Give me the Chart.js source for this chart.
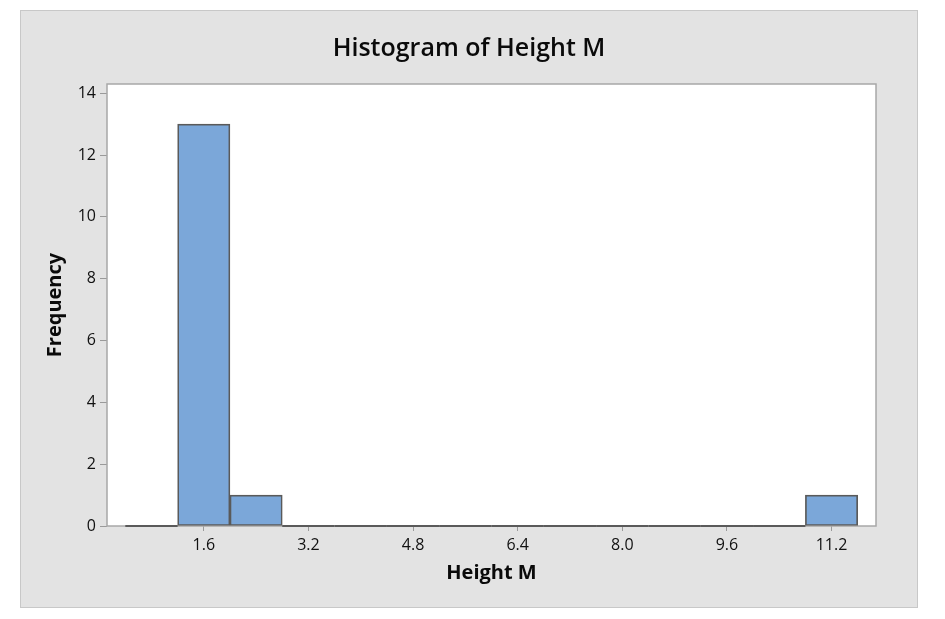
<!DOCTYPE html>
<html>
<head>
<meta charset="utf-8">
<script src="https://cdn.jsdelivr.net/npm/chart.js@4/dist/chart.umd.min.js"></script>
<style>
  body { margin: 0; background: #ffffff; }
  #box {
    position: absolute; left: 20px; top: 10px;
    width: 896px; height: 596px;
    background: #e3e3e3; border: 1px solid #c8c8c8;
  }
  canvas { display: block; }
</style>
</head>
<body>
<div id="box"><canvas id="hist" width="896" height="596"></canvas></div>
<script>
// Histogram data (bin midpoints, width 0.8)
var binCenters = [0.8, 1.6, 2.4, 3.2, 4.0, 4.8, 5.6, 6.4, 7.2, 8.0, 8.8, 9.6, 10.4, 11.2];
var frequencies = [0, 13, 1, 0, 0, 0, 0, 0, 0, 0, 0, 0, 0, 1];
var xTicks = [1.6, 3.2, 4.8, 6.4, 8.0, 9.6, 11.2];
var yTicks = [0, 2, 4, 6, 8, 10, 12, 14];

var fontFamily = "'Open Sans', 'Noto Sans', sans-serif";

// White plot area with a grey frame
var plotFrame = {
  id: "plotFrame",
  beforeDatasetsDraw: function (chart) {
    var a = chart.chartArea;
    var ctx = chart.ctx;
    ctx.save();
    ctx.fillStyle = "#ffffff";
    ctx.fillRect(a.left, a.top, a.right - a.left, a.bottom - a.top);
    ctx.strokeStyle = "#a8a8a8";
    ctx.lineWidth = 1.5;
    ctx.strokeRect(a.left, a.top, a.right - a.left, a.bottom - a.top);
    ctx.restore();
  },
  // empty bins still show as a flat outline on the baseline
  afterDatasetsDraw: function (chart) {
    var meta = chart.getDatasetMeta(0);
    var ctx = chart.ctx;
    ctx.save();
    ctx.strokeStyle = "#5a5a5a";
    ctx.lineWidth = 2;
    meta.data.forEach(function (bar, i) {
      if (frequencies[i] !== 0) return;
      var p = bar.getProps(["x", "base", "width"], true);
      ctx.beginPath();
      ctx.moveTo(p.x - p.width / 2, p.base);
      ctx.lineTo(p.x + p.width / 2, p.base);
      ctx.stroke();
    });
    ctx.restore();
  }
};

var ctx = document.getElementById("hist").getContext("2d");
var chart_hist = new Chart(ctx, {
  type: "bar",
  data: {
    datasets: [{
      label: "Height M",
      data: binCenters.map(function (c, i) { return { x: c, y: frequencies[i] }; }),
      backgroundColor: "#7ba7d9",
      borderColor: "#5a5a5a",
      borderWidth: 1.7,
      borderSkipped: false,
      barPercentage: 1,
      categoryPercentage: 1
    }]
  },
  options: {
    responsive: false,
    animation: false,
    layout: { padding: 0 },
    plugins: {
      legend: { display: false },
      tooltip: { enabled: false },
      title: {
        display: true,
        text: "Histogram of Height M",
        color: "#0a0a0a",
        font: { family: fontFamily, size: 25, weight: "600" },
        padding: { top: 23, bottom: 20 }
      }
    },
    scales: {
      x: {
        type: "linear",
        offset: false,
        min: 0.12,
        max: 11.88,
        afterBuildTicks: function (s) {
          s.ticks = xTicks.map(function (v) { return { value: v }; });
        },
        afterFit: function (s) { s.height = 81; },
        ticks: {
          color: "#111111",
          padding: 5,
          maxRotation: 0,
          font: { family: fontFamily, size: 16 },
          callback: function (v) { return Number(v).toFixed(1); }
        },
        grid: {
          offset: false,
          drawOnChartArea: false,
          drawTicks: true,
          tickLength: 5,
          color: "#9a9a9a"
        },
        border: { display: false },
        title: {
          display: true,
          text: "Height M",
          color: "#0a0a0a",
          font: { family: fontFamily, size: 20, weight: "bold" },
          padding: { top: 0, bottom: 22 }
        }
      },
      y: {
        min: 0,
        max: 14.3,
        afterBuildTicks: function (s) {
          s.ticks = yTicks.map(function (v) { return { value: v }; });
        },
        afterFit: function (s) { s.width = 86; },
        ticks: {
          color: "#111111",
          padding: 4,
          font: { family: fontFamily, size: 16 }
        },
        grid: {
          drawOnChartArea: false,
          drawTicks: true,
          tickLength: 7,
          color: "#9a9a9a"
        },
        border: { display: false },
        title: {
          display: true,
          text: "Frequency",
          color: "#0a0a0a",
          font: { family: fontFamily, size: 20, weight: "bold" },
          padding: { top: 22, bottom: 0 }
        }
      },
      // empty right margin so the title stays centred on the whole panel
      yRight: {
        position: "right",
        afterFit: function (s) { s.width = 41; },
        ticks: { display: false },
        grid: { display: false },
        border: { display: false }
      }
    }
  },
  plugins: [plotFrame]
});
</script>
</body>
</html>
